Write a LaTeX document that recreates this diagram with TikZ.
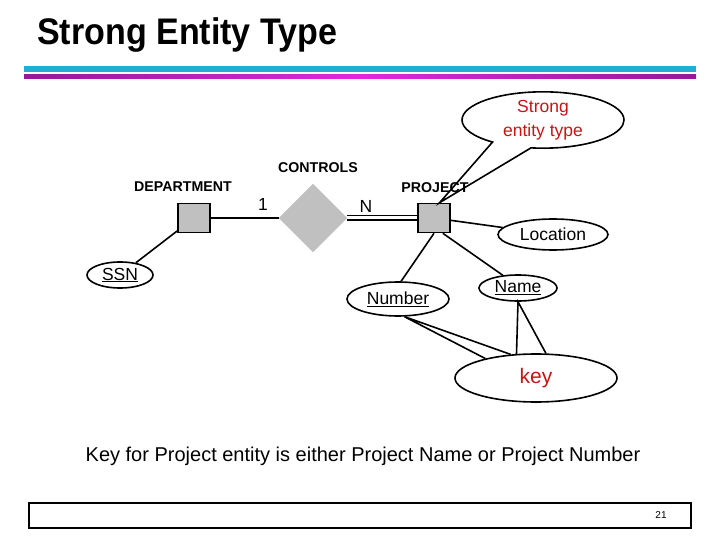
\documentclass[tikz,border=0pt]{standalone}
\usepackage{fontspec}
\setmainfont{Liberation Sans}
\newfontfamily\titlefont[FakeStretch=0.92]{Liberation Sans}
\usepackage{tikz}
\usetikzlibrary{shapes,shapes.geometric,shapes.callouts}
\definecolor{barcyan}{RGB}{30,176,206}
\definecolor{barmag}{RGB}{150,25,150}
\definecolor{barpink}{RGB}{222,40,222}
\definecolor{entgray}{RGB}{192,192,192}
\definecolor{keyred}{RGB}{200,20,20}
\newcommand{\linew}{1.6pt}
\newcommand{\attrsize}{\fontsize{17.5}{20}\selectfont}

\begin{document}
\begin{tikzpicture}[x=1pt,y=-1pt]
            \tikzset{
                entity/.style = {draw, fill=entgray, line width=\linew, minimum width=32pt, minimum height=29pt, inner sep=0pt},
                attrib/.style = {draw, ellipse, line width=\linew, inner sep=0pt, font=\attrsize},
                relship/.style = {diamond, fill=entgray, draw=entgray, minimum width=68pt, minimum height=68pt, inner sep=0pt},
                biglabel/.style = {font=\fontsize{14.2}{16}\selectfont\bfseries},
                conn/.style = {line width=\linew}
            }
            \useasboundingbox (0,0) rectangle (720,540);
            %\draw[help lines, step=20] (0,0) grid (720,540);
            \node[anchor=base west, inner sep=0pt, font=\titlefont\bfseries\fontsize{37}{40}\selectfont] (title) at (37,45) {Strong Entity Type};
            \fill[barcyan] (24,66) rectangle (696,72);
            \shade[left color=barmag, right color=barmag, middle color=barpink] (24,75) rectangle (696,79);

            % entities and relationship
            \node[entity] (dept) at (194,218) {};
            \node[entity] (proj) at (434,218) {};
            \node[relship] (ctrl) at (313,218) {};
            \draw[conn] (dept) -- (ctrl);
            \draw[conn, double, double distance=3pt] (ctrl) -- (proj);
            \node[font=\attrsize] (one) at (263,204) {1};
            \node[font=\attrsize] (many) at (366,206) {N};
            \node[biglabel] (ctrllbl) at (318,168) {CONTROLS};
            \node[biglabel] (deptlbl) at (183,187) {DEPARTMENT};

            \node[ellipse callout, draw, line width=\linew, minimum width=162pt, minimum height=49pt, inner sep=0pt,
                  callout absolute pointer={(proj.70)}, callout pointer arc=30, align=center, text=keyred,
                  font=\fontsize{17.5}{24}\selectfont] (note) at (543,120) {Strong\\entity type};
            \node[biglabel] (projlbl) at (435,188) {PROJECT};

            % attributes
            \node[attrib, minimum width=66pt, minimum height=26pt] (ssn) at (120,275) {\underline{SSN}};
            \node[attrib, minimum width=102pt, minimum height=34pt] (number) at (398,299) {\underline{Number}};
            \node[attrib, minimum width=78pt, minimum height=26pt] (name) at (518,288) {\underline{Name}};
            \node[attrib, minimum width=110pt, minimum height=31pt] (loc) at (553,234.5) {Location};
            \node[attrib, minimum width=162pt, minimum height=48pt, text=keyred, font=\fontsize{21}{24}\selectfont] (key) at (536,378) {key};
            \draw[conn] (dept) -- (ssn);
            \draw[conn] (proj) -- (loc);
            \draw[conn] (proj.south) -- (number.80);
            \draw[conn] (proj.-60) -- (name.140);
            \foreach \a/\t/\b in {159/number.-70/137, 129/name.south/68} {
                \draw[conn] (key.\a) -- (\t) -- (key.\b);
            }

            \node[anchor=base, font=\fontsize{20}{24}\selectfont] (caption) at (363,461) {Key for Project entity is either Project Name or Project Number};
            \node[draw, line width=2pt, minimum width=662pt, minimum height=25pt, inner sep=0pt] (footer) at (360,515.5) {};
            \node[font=\fontsize{10}{12}\selectfont] (pagenum) at (661,515) {21};
        \end{tikzpicture}
\end{document}
